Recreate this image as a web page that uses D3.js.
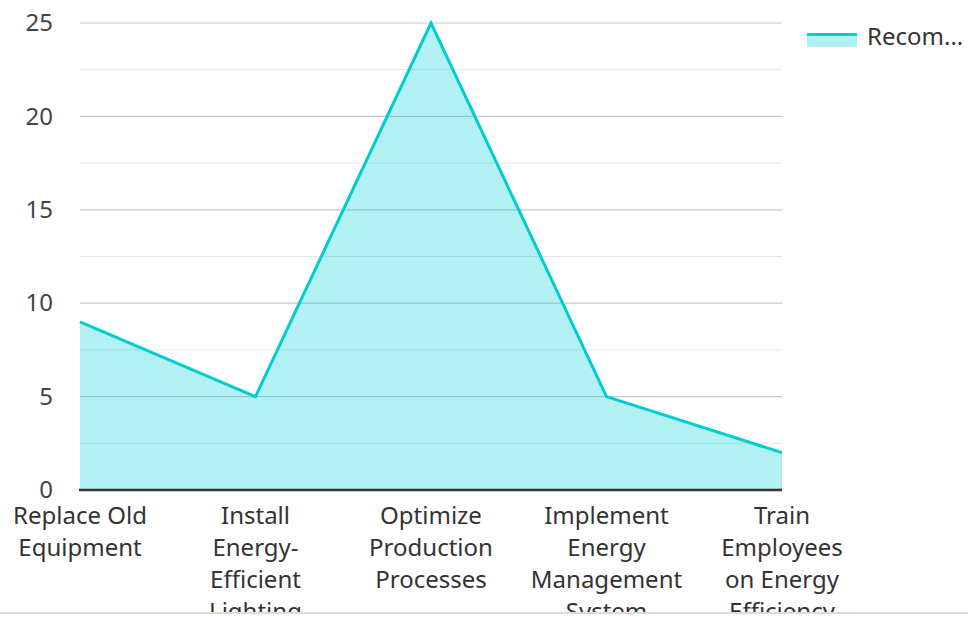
<!DOCTYPE html>
<html>
<head>
<meta charset="utf-8">
<script src="https://cdn.jsdelivr.net/npm/d3@7"></script>
<style>
  html, body { margin: 0; padding: 0; background: #fff; }
  #chart { width: 968px; height: 612px; overflow: hidden; border-bottom: 2px solid #dcdcdc; }
  svg { display: block; font-family: "Noto Sans", "Open Sans", sans-serif; }
</style>
</head>
<body>
<div id="chart"></div>
<script>
// Recommended energy-saving actions
const categories = [
  "Replace Old Equipment",
  "Install Energy-Efficient Lighting",
  "Optimize Production Processes",
  "Implement Energy Management System",
  "Train Employees on Energy Efficiency"
];
const values = [9, 5, 25, 5, 2];
const yTicks = [0, 5, 10, 15, 20, 25];
const yMinorTicks = [2.5, 7.5, 12.5, 17.5, 22.5];
const seriesName = "Recom...";

const W = 968, H = 612;
const plot = { left: 80, right: 782, top: 23, bottom: 490 };
const lineColor = "#00cdd0";
const fontSize = 24;

const svg = d3.select("#chart").append("svg")
  .attr("width", W).attr("height", H);

const x = d3.scalePoint().domain(categories).range([plot.left, plot.right]);
const y = d3.scaleLinear().domain([0, 25]).range([plot.bottom, plot.top]);

// grid lines
svg.append("g").selectAll("line").data(yMinorTicks).join("line")
  .attr("x1", plot.left).attr("x2", plot.right)
  .attr("y1", d => y(d)).attr("y2", d => y(d))
  .attr("stroke", "#e6e6e6").attr("stroke-width", 1);
svg.append("g").selectAll("line").data(yTicks.filter(d => d > 0)).join("line")
  .attr("x1", plot.left).attr("x2", plot.right)
  .attr("y1", d => y(d)).attr("y2", d => y(d))
  .attr("stroke", "#c8c8c8").attr("stroke-width", 1.2);

// area + line
const pts = categories.map((c, i) => [c, values[i]]);
svg.append("path").datum(pts)
  .attr("d", d3.area().x(d => x(d[0])).y0(y(0)).y1(d => y(d[1])))
  .attr("fill", lineColor).attr("fill-opacity", 0.3);
svg.append("path").datum(pts)
  .attr("d", d3.line().x(d => x(d[0])).y(d => y(d[1])))
  .attr("fill", "none").attr("stroke", lineColor)
  .attr("stroke-width", 3).attr("stroke-linejoin", "miter");

// y axis labels
const yAxis = d3.axisLeft(y).tickValues(yTicks).tickSize(0).tickPadding(0);
const gy = svg.append("g").attr("transform", `translate(${plot.left - 27},0)`).call(yAxis);
gy.select(".domain").remove();
gy.selectAll("text").attr("font-size", fontSize).attr("fill", "#444")
  .attr("font-family", "'Noto Sans', 'Open Sans', sans-serif");

// x axis
const xAxis = d3.axisBottom(x).tickSize(0).tickPadding(0);
const gx = svg.append("g").attr("transform", `translate(0,${plot.bottom})`).call(xAxis);
gx.select(".domain").attr("stroke", "#333").attr("stroke-width", 2.4)
  .attr("d", `M${plot.left - 1},0H${plot.right}`);
gx.selectAll("text").remove();

// wrapped category labels
const measure = svg.append("text").attr("font-size", fontSize).attr("visibility", "hidden");
function textWidth(s) { measure.text(s); return measure.node().getComputedTextLength(); }
function wrap(label, maxW) {
  const tokens = label.match(/[^\s-]+-?/g);
  const lines = [];
  let cur = "";
  tokens.forEach(t => {
    const joiner = cur === "" ? "" : (cur.endsWith("-") ? "" : " ");
    const cand = cur + joiner + t;
    if (cur !== "" && textWidth(cand) > maxW) { lines.push(cur); cur = t; }
    else cur = cand;
  });
  if (cur) lines.push(cur);
  return lines;
}
const labelG = svg.append("g");
categories.forEach(c => {
  const lines = wrap(c, 146);
  const t = labelG.append("text").attr("text-anchor", "middle")
    .attr("font-size", fontSize).attr("fill", "#333")
    .attr("x", x(c)).attr("y", plot.bottom + 34);
  lines.forEach((ln, i) => {
    t.append("tspan").attr("x", x(c)).attr("dy", i === 0 ? 0 : 32).text(ln);
  });
});
measure.remove();

// legend
const lg = svg.append("g").attr("transform", "translate(807,33)");
lg.append("rect").attr("x", 0).attr("y", 0).attr("width", 50).attr("height", 14)
  .attr("fill", lineColor).attr("fill-opacity", 0.3);
lg.append("line").attr("x1", 0).attr("x2", 50).attr("y1", 1.5).attr("y2", 1.5)
  .attr("stroke", lineColor).attr("stroke-width", 3);
lg.append("text").attr("x", 60).attr("y", 11.5).attr("font-size", fontSize)
  .attr("fill", "#333").text(seriesName);
</script>
</body>
</html>
